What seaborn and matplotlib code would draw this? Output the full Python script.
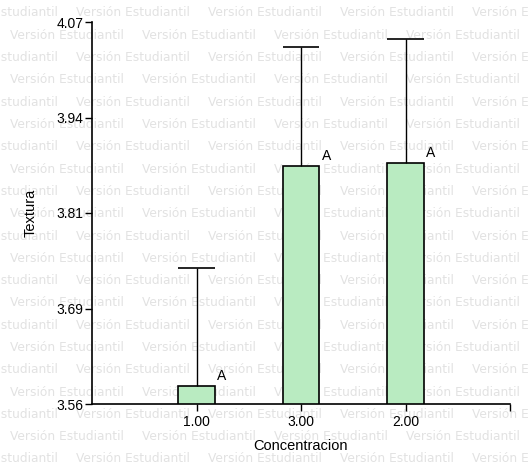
import numpy as np
import pandas as pd
import seaborn as sns
from matplotlib import pyplot as plt


categories = ["1.00", "3.00", "2.00"]
means = [3.584, 3.878, 3.882]
upper = [3.742, 4.036, 4.047]
letters = ["A", "A", "A"]
y_ticks = ["3.56", "3.69", "3.81", "3.94", "4.07"]

BAR = "#b9ebc1"
WATERMARK = "Versión Estudiantil"

df = pd.DataFrame({"Concentracion": categories, "Textura": means})

sns.set_theme(style="white")
plt.rcParams["font.family"] = ["Liberation Sans", "DejaVu Sans"]

fig = plt.figure(figsize=(5.28, 4.66), dpi=100)

# background watermark, rows alternate a half-period shift
for i in range(21):
    y = 1 - (13 + i * 22.3) / 466
    shift = 76 if i % 2 == 0 else 10
    for k in range(-1, 5):
        fig.text((shift + k * 132) / 528, y, WATERMARK, fontsize=8.8, color="#e2e2e2",
                 family="DejaVu Sans", ha="left", va="center", zorder=-5)

ax = fig.add_axes([92 / 528, 62 / 466, 418 / 528, 382 / 466])
ax.patch.set_alpha(0)
sns.barplot(df, x="Concentracion", y="Textura", color=BAR, width=0.35,
            edgecolor="black", linewidth=1.2, saturation=1, errorbar=None, ax=ax)
xs = np.arange(len(categories))
ax.vlines(xs, means, upper, color="black", linewidth=1, zorder=1)
ax.hlines(upper, xs - 0.175, xs + 0.175, color="black", linewidth=1.2, zorder=1)
for x, m, lab in zip(xs, means, letters):
    ax.text(x + 0.2, m + 0.004, lab, ha="left", va="bottom", fontsize=10, color="black")

ax.set_xlim(-1, 3)
ax.set_xticks([0, 1, 2, 3], categories + [""])
ax.set_ylim(3.56, 4.07)
ax.set_yticks(np.linspace(3.56, 4.07, 5), y_ticks)
for side in ["top", "right"]:
    ax.spines[side].set_visible(False)
for side in ["left", "bottom"]:
    ax.spines[side].set_color("black")
    ax.spines[side].set_linewidth(1.2)
ax.tick_params(axis="both", direction="out", length=5, width=1, color="black",
               labelsize=10, labelcolor="black", left=True, bottom=True, pad=1)
ax.tick_params(axis="x", pad=3)
ax.set_xlabel("Concentracion", fontsize=10.5, color="black", labelpad=7)
ax.set_ylabel("Textura", fontsize=10.5, color="black", labelpad=14)

fig.savefig("out.png", dpi=100)
